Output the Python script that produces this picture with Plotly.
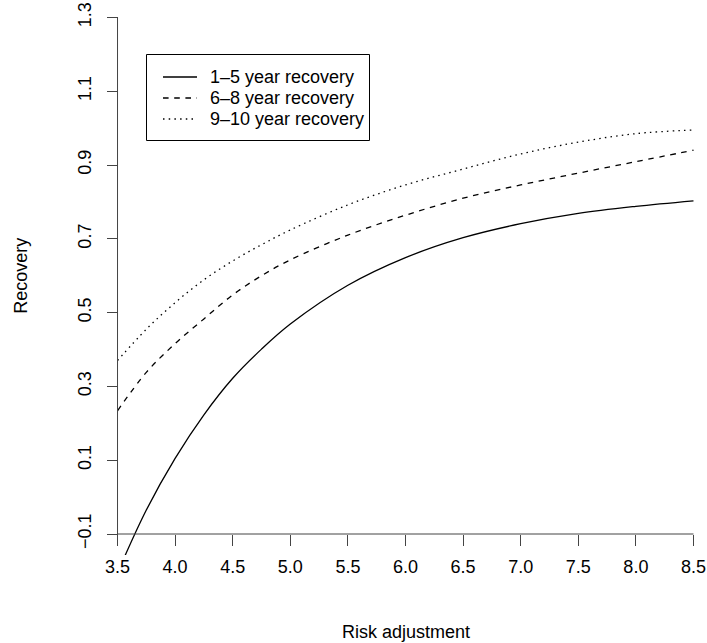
import plotly.graph_objects as go

# Risk adjustment values along the x axis
risk_adjustment = [3.5, 3.75, 4.0, 4.25, 4.5, 4.75, 5.0, 5.5, 6.0, 6.5, 7.0, 7.5, 8.0, 8.5]

# Recovery by horizon
recovery_1_5 = [-0.205, -0.035, 0.105, 0.223, 0.322, 0.401, 0.469, 0.574, 0.649, 0.703, 0.741, 0.769, 0.788, 0.803]
recovery_6_8 = [0.234, 0.338, 0.416, 0.483, 0.548, 0.600, 0.643, 0.710, 0.764, 0.810, 0.846, 0.878, 0.909, 0.940]
recovery_9_10 = [0.370, 0.455, 0.527, 0.589, 0.640, 0.684, 0.724, 0.792, 0.846, 0.889, 0.930, 0.962, 0.985, 0.995]

series_names = ["1–5 year recovery", "6–8 year recovery", "9–10 year recovery"]

x_ticks = [3.5, 4.0, 4.5, 5.0, 5.5, 6.0, 6.5, 7.0, 7.5, 8.0, 8.5]
x_ticktext = ["3.5", "4.0", "4.5", "5.0", "5.5", "6.0", "6.5", "7.0", "7.5", "8.0", "8.5"]
y_ticks = [-0.1, 0.1, 0.3, 0.5, 0.7, 0.9, 1.1, 1.3]
y_ticktext = ["−0.1", "0.1", "0.3", "0.5", "0.7", "0.9", "1.1", "1.3"]

FONT = "Liberation Sans, Arial, Helvetica, sans-serif"
FS = 18
AXIS_COLOR = "#444444"

W, H = 707, 643
ML, MR, MT, MB = 106, 2, 0, 88
PW, PH = W - ML - MR, H - MT - MB
X_RANGE = [3.4, 8.6]
Y_RANGE = [-0.1569, 1.3472]


def frac_x(v):
    return (v - X_RANGE[0]) / (X_RANGE[1] - X_RANGE[0])


def frac_y(v):
    return (v - Y_RANGE[0]) / (Y_RANGE[1] - Y_RANGE[0])


def pxx(p):
    # pixel column -> paper x
    return (p - ML) / PW


def pxy(p):
    # pixel row -> paper y
    return (H - MB - p) / PH


dashes = ["solid", "5.6px,5.6px", "1.5px,4.2px"]
series = [recovery_1_5, recovery_6_8, recovery_9_10]

fig = go.Figure()
for name, dash, ys in zip(series_names, dashes, series):
    fig.add_trace(go.Scatter(
        x=risk_adjustment, y=ys, mode="lines", name=name, showlegend=False,
        line=dict(color="black", width=1.3, dash=dash, shape="spline", smoothing=1.0),
    ))

shapes = [
    # axis lines spanning the tick range, meeting at the lower-left corner
    dict(type="line", xref="x", yref="y", x0=x_ticks[0], x1=x_ticks[0],
         y0=y_ticks[0], y1=y_ticks[-1], line=dict(color=AXIS_COLOR, width=1)),
    dict(type="line", xref="x", yref="y", x0=x_ticks[0], x1=x_ticks[-1],
         y0=y_ticks[0], y1=y_ticks[0], line=dict(color=AXIS_COLOR, width=1)),
    # legend frame
    dict(type="rect", xref="paper", yref="paper",
         x0=pxx(146.5), x1=pxx(369.5), y0=pxy(140.5), y1=pxy(54.5),
         line=dict(color="black", width=1), fillcolor="white", layer="above"),
]
annotations = []
row_y = [77, 98, 119]
for name, dash, ry in zip(series_names, dashes, row_y):
    shapes.append(dict(type="line", xref="paper", yref="paper",
                       x0=pxx(163), x1=pxx(197), y0=pxy(ry), y1=pxy(ry),
                       line=dict(color="black", width=1.3, dash=dash), layer="above"))
    annotations.append(dict(text=name, xref="paper", yref="paper",
                            x=pxx(208), y=pxy(ry), xanchor="left", yanchor="middle",
                            showarrow=False, font=dict(family=FONT, size=FS, color="black")))

annotations += [
    dict(text="Risk adjustment", xref="paper", yref="paper",
         x=frac_x((x_ticks[0] + x_ticks[-1]) / 2), y=pxy(632),
         xanchor="center", yanchor="middle", showarrow=False,
         font=dict(family=FONT, size=FS, color="black")),
    dict(text="Recovery", xref="paper", yref="paper",
         x=pxx(21), y=frac_y((y_ticks[0] + y_ticks[-1]) / 2),
         xanchor="center", yanchor="middle", showarrow=False, textangle=-90,
         font=dict(family=FONT, size=FS, color="black")),
]

fig.update_layout(
    width=W, height=H,
    margin=dict(l=ML, r=MR, t=MT, b=MB),
    paper_bgcolor="white", plot_bgcolor="white",
    font=dict(family=FONT, size=FS, color="black"),
    xaxis=dict(
        range=X_RANGE, anchor="free", position=frac_y(y_ticks[0]),
        tickmode="array", tickvals=x_ticks, ticktext=x_ticktext,
        ticks="outside", ticklen=11, tickwidth=1, tickcolor=AXIS_COLOR,
        ticklabelstandoff=5,
        showgrid=False, zeroline=False, showline=False,
        tickfont=dict(family=FONT, size=FS, color="black"),
    ),
    yaxis=dict(
        range=Y_RANGE, anchor="free", position=frac_x(x_ticks[0]),
        tickmode="array", tickvals=y_ticks, ticktext=y_ticktext,
        ticks="outside", ticklen=11, tickwidth=1, tickcolor=AXIS_COLOR,
        tickangle=-90, ticklabelstandoff=8,
        showgrid=False, zeroline=False, showline=False,
        tickfont=dict(family=FONT, size=FS, color="black"),
    ),
    showlegend=False,
    shapes=shapes,
    annotations=annotations,
)

fig.write_html("out.html")
